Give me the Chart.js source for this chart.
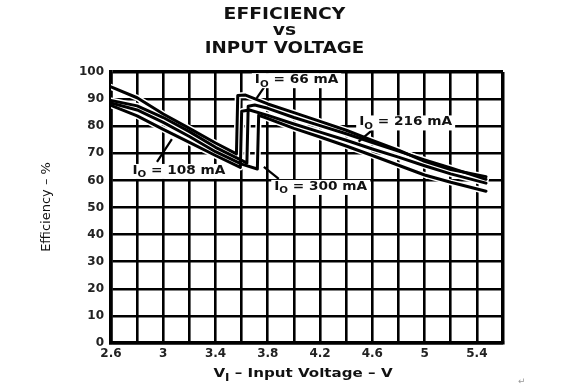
<!DOCTYPE html>
<html><head><meta charset="utf-8">
<script src="https://cdn.jsdelivr.net/npm/chart.js@4"></script>
<style>html,body{margin:0;padding:0;background:#fff}#wrap{width:580px;height:390px}</style>
</head><body><div id="wrap"><canvas id="c" width="580" height="390"></canvas></div>
<script>
// ---- data ----
const xTickLabels = ['2.6','3','3.4','3.8','4.2','4.6','5','5.4'];
const yTickLabels = ['0','10','20','30','40','50','60','70','80','90','100'];
const seriesLabels = ['66 mA','108 mA','216 mA','300 mA'];

const v66   = [2.6, 2.8, 3.0, 3.2, 3.4, 3.56, 3.57, 3.63, 3.8, 4.0, 4.2, 4.4, 4.6, 4.8, 5.0, 5.2, 5.47];
const eff66 = [94.5,90.5,84.5,79.2,73.8,69.8, 91.3, 91.5, 88.2,85.0,81.8,78.5,74.8,71.2,67.0,64.0,61.4];

const v108   = [2.6, 2.8, 3.0, 3.2, 3.4, 3.59, 3.60, 3.66, 3.8, 4.0, 4.2, 4.4, 4.6, 4.8, 5.0, 5.2, 5.47];
const eff108 = [87.7,83.8,78.8,74.0,69.2,64.8, 85.5, 86.0, 84.0,80.8,77.8,74.8,71.6,68.6,65.4,62.4,59.0];

const v216   = [2.6, 2.8, 3.0, 3.2, 3.4, 3.6, 3.64, 3.65, 3.70, 3.8, 4.0, 4.2, 4.4, 4.6, 4.8, 5.0, 5.2, 5.47];
const eff216 = [89.5,87.5,83.2,78.0,72.2,67.4,66.4, 87.4, 87.8, 86.6,83.2,80.2,77.2,74.0,70.8,67.6,64.6,60.4];

const v300   = [2.6, 2.8, 3.0, 3.2, 3.4, 3.6, 3.72, 3.73, 3.78, 4.0, 4.2, 4.4, 4.6, 4.8, 5.0, 5.2, 5.47];
const eff300 = [88.6,86.0,81.4,76.2,70.6,66.0,64.2, 84.0, 83.2, 79.2,76.0,72.7,69.2,65.6,62.0,59.3,56.0];

// annotation anchors in data units: [labelV, labelEff, leaderFromV, leaderFromEff, leaderToV, leaderToEff]
const labelAnchors = [
  [4.02, 97.6, 3.77, 94.2, 3.715, 90.4],
  [3.12, 64.1, 2.952, 66.8, 3.066, 75.2],
  [4.855, 82.0, 4.59, 78.2, 4.495, 74.3],
  [4.205, 58.2, 3.884, 60.6, 3.77, 65.0]
];

function pts(v, e){ return v.map((x,i)=>({x:x, y:e[i]})); }

const ds = (lbl, v, e) => ({
  label: 'IO = ' + lbl, data: pts(v, e), borderColor: '#000', borderWidth: 3,
  pointRadius: 0, tension: 0, fill: false, borderJoinStyle: 'round', borderCapStyle: 'round'
});

const SANS = '"DejaVu Sans", "Liberation Sans", sans-serif';

function drawParts(ctx, parts, cx, baseY, size, weight, sx, bg){
  // parts: [text, isSub]
  ctx.save();
  let w = 0;
  const subSize = Math.round(size*0.78);
  parts.forEach(p=>{ ctx.font = weight+' '+(p[1]?subSize:size)+'px '+SANS; w += ctx.measureText(p[0]).width; });
  const W = w*sx;
  let x0 = cx - W/2;
  if (bg){
    ctx.fillStyle = '#fff';
    ctx.fillRect(x0-3, baseY-size*0.82, W+6, size*1.25);
  }
  ctx.translate(x0, baseY);
  ctx.scale(sx, 1);
  ctx.fillStyle = '#111';
  ctx.textBaseline = 'alphabetic';
  ctx.textAlign = 'left';
  let x = 0;
  parts.forEach(p=>{
    ctx.font = weight+' '+(p[1]?subSize:size)+'px '+SANS;
    ctx.fillText(p[0], x, p[1] ? size*0.3 : 0);
    x += ctx.measureText(p[0]).width;
  });
  ctx.restore();
}

const haloPlugin = {
  id: 'halo',
  beforeDatasetsDraw(chart){
    const ctx = chart.ctx, a = chart.chartArea;
    ctx.save();
    ctx.beginPath(); ctx.rect(a.left, a.top, a.right-a.left, a.bottom-a.top); ctx.clip();
    ctx.strokeStyle = '#fff'; ctx.lineWidth = 6; ctx.lineJoin = 'round'; ctx.lineCap='round';
    chart.data.datasets.forEach((d,i)=>{
      const meta = chart.getDatasetMeta(i);
      ctx.beginPath();
      meta.data.forEach((el,j)=>{ if(j===0) ctx.moveTo(el.x, el.y); else ctx.lineTo(el.x, el.y); });
      ctx.stroke();
    });
    ctx.restore();
  }
};

const textPlugin = {
  id: 'texts',
  afterDraw(chart){
    const ctx = chart.ctx;
    const xs = chart.scales.x, ys = chart.scales.y;
    // title
    drawParts(ctx, [['EFFICIENCY',false]], 284.5, 18.5, 16, 'bold', 1.17, false);
    drawParts(ctx, [['vs',false]], 284.5, 35, 16, 'bold', 1.17, false);
    drawParts(ctx, [['INPUT VOLTAGE',false]], 284.5, 53, 16, 'bold', 1.14, false);
    // x axis title
    drawParts(ctx, [['V',false],['I',true],[' \u2013 Input Voltage \u2013 V',false]], 303, 377, 12.8, 'bold', 1.18, false);
    // y axis title
    ctx.save();
    ctx.translate(50, 207);
    ctx.rotate(-Math.PI/2);
    ctx.font = '13px '+SANS; ctx.fillStyle='#111'; ctx.textAlign='center'; ctx.textBaseline='alphabetic';
    ctx.fillText('Efficiency \u2013 %', 0, 0);
    ctx.restore();
    // curve labels with leaders
    labelAnchors.forEach((a,i)=>{
      ctx.save();
      ctx.strokeStyle = '#000'; ctx.lineWidth = 2.2;
      ctx.beginPath();
      ctx.moveTo(xs.getPixelForValue(a[2]), ys.getPixelForValue(a[3]));
      ctx.lineTo(xs.getPixelForValue(a[4]), ys.getPixelForValue(a[5]));
      ctx.stroke();
      ctx.restore();
      drawParts(ctx, [['I',false],['O',true],[' = '+seriesLabels[i],false]],
        xs.getPixelForValue(a[0]), ys.getPixelForValue(a[1])+4.5, 12, 'bold', 1.14, true);
    });
    // stray return mark in the reference
    ctx.save(); ctx.font = '9px '+SANS; ctx.fillStyle='#999'; ctx.fillText('\u21b5', 518, 384); ctx.restore();
  }
};

new Chart(document.getElementById('c'), {
  type: 'line',
  data: { datasets: [ ds(seriesLabels[0], v66, eff66), ds(seriesLabels[1], v108, eff108),
                      ds(seriesLabels[2], v216, eff216), ds(seriesLabels[3], v300, eff300) ] },
  options: {
    responsive: false, animation: false, devicePixelRatio: 1,
    layout: { padding: { left: 0, top: 72, right: 77, bottom: 17 } },
    plugins: { legend: { display: false }, title: { display: false }, tooltip: { enabled: false } },
    scales: {
      x: {
        type: 'linear', min: 2.6, max: 5.6,
        afterFit: s => { s.height = 30; },
        grid: { color: '#000', lineWidth: c => (c.index === 15 ? 3.5 : 2.6), drawTicks: false },
        border: { display: true, color: '#000', width: 3.5 },
        ticks: { stepSize: 0.2, autoSkip: false, maxRotation: 0, padding: 4, color: '#222',
          font: { family: SANS, size: 12, weight: 'bold' },
          callback: (v, i) => (i % 2 === 0 && xTickLabels[i/2] !== undefined) ? xTickLabels[i/2] : '' }
      },
      y: {
        min: 0, max: 100,
        afterFit: s => { s.width = 111; },
        grid: { color: '#000', lineWidth: c => (c.index === 10 ? 3.5 : 2.6), drawTicks: false },
        border: { display: true, color: '#000', width: 3.5 },
        ticks: { stepSize: 10, padding: 7, color: '#222',
          font: { family: SANS, size: 12, weight: 'bold' },
          callback: (v, i) => yTickLabels[i] }
      }
    }
  },
  plugins: [haloPlugin, textPlugin]
});
</script>
</body></html>
